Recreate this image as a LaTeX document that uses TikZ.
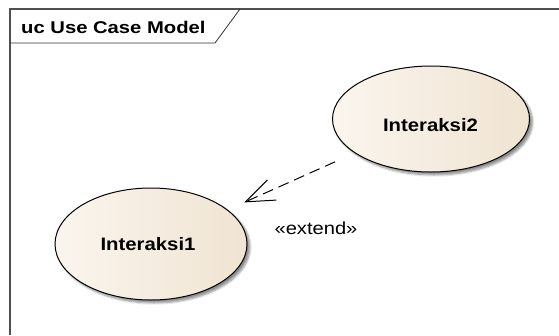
\documentclass[tikz,border=0pt]{standalone}
\usepackage{fontspec}
\setmainfont{Liberation Sans}
\newfontfamily\titlefont[FakeStretch=1.19]{Liberation Sans}
\newfontfamily\casefont[FakeStretch=1.13]{Liberation Sans}
\newfontfamily\relfont[FakeStretch=1.15]{Liberation Sans}
\usetikzlibrary{shapes.geometric,arrows.meta,shadows.blur}

\definecolor{framegray}{RGB}{80,80,80}
\definecolor{caselight}{RGB}{250,245,238}
\definecolor{casedark}{RGB}{240,228,210}

\tikzset{
  usecase/.style={ellipse, draw=black, line width=1pt, inner sep=0pt,
    left color=caselight, right color=casedark,
    blur shadow={shadow xshift=3pt, shadow yshift=-3pt, shadow blur steps=6, shadow opacity=45}},
  casetext/.style={inner sep=0pt, font=\casefont\fontsize{18}{21}\selectfont\bfseries},
  extendrel/.style={line width=1pt, dash pattern=on 11pt off 6pt,
    -{Straight Barb[length=29pt,width=22pt,line width=1pt]}},
  framebox/.style={draw=framegray, line width=1.4pt},
  tabline/.style={draw=black!80, line width=0.8pt},
  reltext/.style={inner sep=0pt, font=\relfont\fontsize{17.5}{20}\selectfont}
}

\begin{document}
\begin{tikzpicture}[x=1pt,y=-1pt]
  \useasboundingbox (0,0) rectangle (559,335);

  % diagram frame (open at right and bottom)
  \draw[framebox] (559,9) -- (10,9) -- (10,335);
  % name tab
  \draw[tabline] (10,43) -- (215,43) -- (240,9);
  \node[anchor=base west, inner sep=0pt,
        font=\titlefont\fontsize{17}{20}\selectfont\bfseries] (title) at (21,33) {uc Use Case Model};

  % use cases
  \node[usecase, minimum width=197pt, minimum height=106pt] (i2) at (431,119) {};
  \node[casetext, anchor=base] (i2text) at (430.5,131) {Interaksi2};
  \node[usecase, minimum width=192pt, minimum height=112pt] (i1) at (151,244) {};
  \node[casetext, anchor=base] (i1text) at (148,250) {Interaksi1};

  % extend relationship
  \draw[extendrel, shorten <=105pt, shorten >=102pt] (i2.center) -- (i1.center);
  \node[reltext, anchor=base] (ext) at (316,234) {«extend»};
\end{tikzpicture}
\end{document}
